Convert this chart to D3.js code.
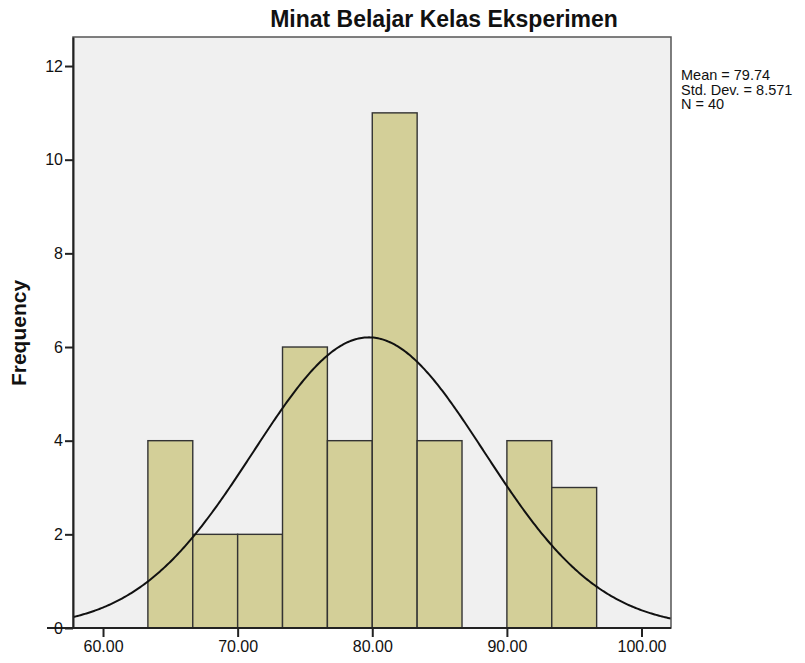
<!DOCTYPE html>
<html>
<head>
<meta charset="utf-8">
<script src="https://cdn.jsdelivr.net/npm/d3@7"></script>
<style>
  body { margin: 0; background: #fff; }
  text { font-family: "Liberation Sans", Arial, sans-serif; fill: #111; }
</style>
</head>
<body>
<div id="chart"></div>
<script>
// histogram bins (lower edges) and counts
var binStart = [63.333, 66.667, 70.0, 73.333, 76.667, 80.0, 83.333, 86.667, 90.0, 93.333];
var binWidth = 3.3333;
var counts = [4, 2, 2, 6, 4, 11, 4, 0, 4, 3];
var xTicks = [60, 70, 80, 90, 100];
var yTicks = [0, 2, 4, 6, 8, 10, 12];
var stats = ["Mean = 79.74", "Std. Dev. = 8.571", "N = 40"];
var mean = 79.74, sd = 8.571, n = 40;

var W = 805, H = 663;
var margin = {top: 37, right: 134, bottom: 35, left: 73},
    width = W - margin.left - margin.right,
    height = H - margin.top - margin.bottom;

var svg = d3.select("#chart")
  .append("svg")
    .attr("width", W)
    .attr("height", H);

var g = svg.append("g")
    .attr("transform", "translate(" + margin.left + "," + margin.top + ")");

var x = d3.scaleLinear().domain([57.77, 102.19]).range([0, width]);
var y = d3.scaleLinear().domain([0, 12.62]).range([height, 0]);

// plot background
g.append("rect")
  .attr("width", width)
  .attr("height", height)
  .attr("fill", "#f0f0f0");

// bars
counts.forEach(function(c, i) {
  if (c === 0) return;
  g.append("rect")
    .attr("x", x(binStart[i]))
    .attr("y", y(c))
    .attr("width", x(binStart[i] + binWidth) - x(binStart[i]))
    .attr("height", height - y(c))
    .attr("fill", "#d3cf98")
    .attr("stroke", "#333")
    .attr("stroke-width", 1.4);
});

// normal curve from the reported mean / sd
var xs = d3.range(0, 401).map(function(k) { return 57.77 + k * (102.19 - 57.77) / 400; });
var norm = function(v) {
  var z = (v - mean) / sd;
  return n * binWidth / (sd * Math.sqrt(2 * Math.PI)) * Math.exp(-0.5 * z * z);
};
g.append("path")
  .datum(xs)
  .attr("fill", "none")
  .attr("stroke", "#111")
  .attr("stroke-width", 2)
  .attr("d", d3.line()
    .x(function(d) { return x(d); })
    .y(function(d) { return y(norm(d)); }));

// frame
g.append("rect")
  .attr("width", width)
  .attr("height", height)
  .attr("fill", "none")
  .attr("stroke", "#555")
  .attr("stroke-width", 1.5);

// axes
var xAxis = g.append("g")
  .attr("transform", "translate(0," + height + ")")
  .call(d3.axisBottom(x).tickValues(xTicks).tickFormat(d3.format(".2f")).tickSize(9).tickSizeOuter(0).tickPadding(4));
var yAxis = g.append("g")
  .call(d3.axisLeft(y).tickValues(yTicks).tickSize(8).tickSizeOuter(0).tickPadding(2));

[xAxis, yAxis].forEach(function(a) {
  a.select(".domain").attr("stroke", "#222").attr("stroke-width", 2);
  a.selectAll(".tick line").attr("stroke", "#222").attr("stroke-width", 2);
  a.selectAll(".tick text")
    .attr("fill", "#111")
    .attr("font-size", 16)
    .style("font-family", "'Liberation Sans', Arial, sans-serif")
    .style("font-size", "16px");
});
xAxis.select(".domain").attr("d", "M" + (-26) + ",0H" + width);

// title
svg.append("text")
  .attr("x", 444)
  .attr("y", 27)
  .attr("text-anchor", "middle")
  .style("font-size", "23px")
  .style("font-weight", "bold")
  .text("Minat Belajar Kelas Eksperimen");

// y label
svg.append("text")
  .attr("transform", "translate(26,333) rotate(-90)")
  .attr("text-anchor", "middle")
  .style("font-size", "21px")
  .style("font-weight", "bold")
  .text("Frequency");

// stats box
svg.append("g").selectAll("text")
  .data(stats)
  .enter().append("text")
    .attr("x", 681)
    .attr("y", function(d, i) { return 80 + i * 14.5; })
    .style("font-size", "14.5px")
    .text(function(d) { return d; });
</script>
</body>
</html>
